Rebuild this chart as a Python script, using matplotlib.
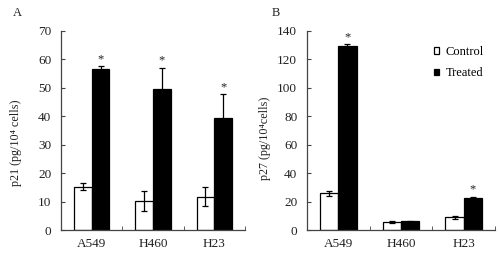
import numpy as np
import matplotlib
matplotlib.use("Agg")
import matplotlib.pyplot as plt

plt.rcParams["font.family"] = ["Liberation Serif", "DejaVu Serif"]
plt.rcParams["font.size"] = 9

CELL_LINES = ["A549", "H460", "H23"]

# Panel A: p21
P21_CONTROL = [15.3, 10.2, 11.8]
P21_CONTROL_ERR = [1.3, 3.4, 3.3]
P21_TREATED = [56.7, 49.5, 39.4]
P21_TREATED_ERR = [0.8, 7.6, 8.4]
P21_SIG = [True, True, True]

# Panel B: p27
P27_CONTROL = [25.9, 5.8, 8.9]
P27_CONTROL_ERR = [1.9, 0.5, 0.9]
P27_TREATED = [129.5, 6.3, 22.8]
P27_TREATED_ERR = [1.2, 0.4, 0.7]
P27_SIG = [True, False, True]

TEXT_COLOR = "#222222"
WIDTH = 0.29


def draw_panel(ax, ctrl, ctrl_err, treat, treat_err, sig, ymax, ystep, ylabel):
    x = np.arange(len(CELL_LINES))
    err_kw = dict(ecolor="black", elinewidth=0.9, capsize=2.5, capthick=0.9)
    bc = ax.bar(x - WIDTH / 2, ctrl, WIDTH, yerr=ctrl_err, color="white",
                edgecolor="black", linewidth=0.9, error_kw=err_kw, label="Control")
    bt = ax.bar(x + WIDTH / 2, treat, WIDTH, yerr=treat_err, color="black",
                edgecolor="black", linewidth=0.9, error_kw=err_kw, label="Treated")
    off = ymax * 0.005
    for xi, v, e, s in zip(x, treat, treat_err, sig):
        if s:
            ax.text(xi + WIDTH / 2, v + e + off, "*", ha="center", va="bottom",
                    fontsize=9, color=TEXT_COLOR)

    ax.set_xlim(-0.5, 2.5)
    ax.set_ylim(0, ymax)
    ax.set_yticks(np.arange(0, ymax + 1, ystep))
    ax.set_xticks(x)
    ax.set_xticklabels(CELL_LINES)
    ax.set_xticks([0.5, 1.5, 2.5], minor=True)
    ax.tick_params(axis="x", which="major", length=0, pad=6, labelsize=9.5,
                   colors=TEXT_COLOR)
    ax.tick_params(axis="x", which="minor", direction="in", length=3, color="#444444")
    ax.tick_params(axis="y", direction="in", length=3, pad=7, labelsize=9.5,
                   colors=TEXT_COLOR, color="#444444")
    for side in ["top", "right"]:
        ax.spines[side].set_visible(False)
    for side in ["left", "bottom"]:
        ax.spines[side].set_color("#444444")
        ax.spines[side].set_linewidth(0.9)
    ax.set_ylabel(ylabel, fontsize=8.7, color=TEXT_COLOR)
    return bc, bt


fig = plt.figure(figsize=(5.0, 2.63), dpi=100)
axA = fig.add_axes([0.122, 0.125, 0.368, 0.758])
axB = fig.add_axes([0.614, 0.125, 0.376, 0.758])

draw_panel(axA, P21_CONTROL, P21_CONTROL_ERR, P21_TREATED, P21_TREATED_ERR,
           P21_SIG, 70, 10, "p21 (pg/10\u2074 cells)")
bc, bt = draw_panel(axB, P27_CONTROL, P27_CONTROL_ERR, P27_TREATED, P27_TREATED_ERR,
                    P27_SIG, 140, 20, "p27 (pg/10\u2074cells)")
axA.yaxis.set_label_coords(-0.21, 0.44)
axB.yaxis.set_label_coords(-0.19, 0.46)

axB.legend([bc, bt], ["Control", "Treated"], frameon=False, loc="upper right",
           bbox_to_anchor=(1.0, 0.98), handlelength=0.45, handleheight=0.45,
           handletextpad=0.5, labelspacing=0.75, fontsize=9)

fig.text(0.026, 0.95, "A", fontsize=9, color=TEXT_COLOR, va="center")
fig.text(0.544, 0.95, "B", fontsize=9, color=TEXT_COLOR, va="center")

fig.savefig("out.png", dpi=100)
